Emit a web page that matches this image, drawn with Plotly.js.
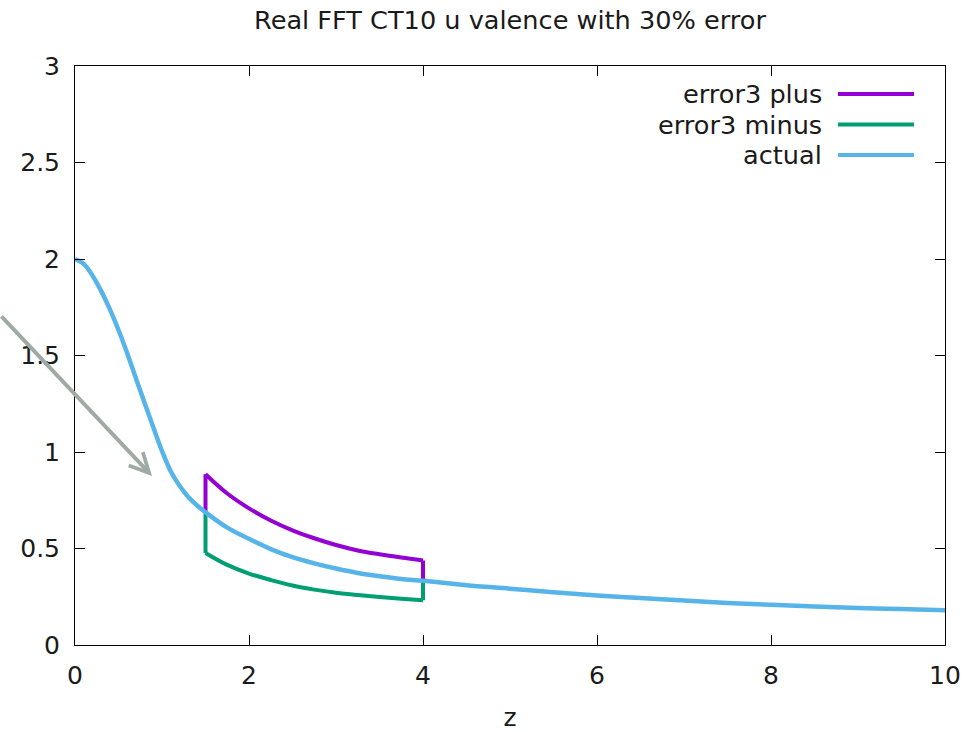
<!DOCTYPE html>
<html>
<head>
<meta charset="utf-8">
<script src="https://cdn.plot.ly/plotly-3.0.1.min.js"></script>
<style>html,body{margin:0;padding:0;background:#fff;}#chart{width:979px;height:732px;}</style>
</head>
<body>
<div id="chart"></div>
<script>
// ---- data ----
const chartTitle = "Real FFT CT10 u valence with 30% error";
const xTitle = "z";
const seriesNames = ["error3 plus", "error3 minus", "actual"];
const seriesColors = ["#9400d3", "#009e73", "#56b4e9"];

const zActual = [0, 0.1, 0.2, 0.3, 0.4, 0.5, 0.6, 0.7, 0.8, 0.9, 1.0, 1.1, 1.2, 1.3, 1.4, 1.5,
  1.75, 2, 2.25, 2.5, 2.75, 3, 3.25, 3.5, 3.75, 4, 4.5, 5, 5.5, 6, 6.5, 7, 7.5, 8, 8.5, 9, 9.5, 10];
const actual = [2.0, 1.975, 1.915, 1.835, 1.74, 1.632, 1.512, 1.382, 1.254, 1.128, 1.005, 0.9, 0.826, 0.768, 0.724, 0.688,
  0.608, 0.55, 0.497, 0.455, 0.423, 0.396, 0.373, 0.356, 0.342, 0.333, 0.31, 0.292, 0.273, 0.256, 0.243, 0.23, 0.218, 0.208, 0.199, 0.192, 0.186, 0.18];

// error bands: vertical jump at z=1.5, curve, vertical jump back at z=4 (null separates pieces)
const zError = [1.5, 1.5, null, 1.5, 1.75, 2, 2.25, 2.5, 2.75, 3, 3.25, 3.5, 3.75, 4, null, 4, 4];
const errPlus = [0.688, 0.885, null, 0.885, 0.785, 0.708, 0.645, 0.594, 0.553, 0.518, 0.49, 0.47, 0.453, 0.438, null, 0.438, 0.333];
const errMinus = [0.688, 0.477, null, 0.477, 0.415, 0.37, 0.337, 0.308, 0.287, 0.271, 0.259, 0.249, 0.24, 0.232, null, 0.232, 0.333];

const xTicks = [0, 2, 4, 6, 8, 10];
const yTicks = [0, 0.5, 1, 1.5, 2, 2.5, 3];
const yTickText = ["0", "0.5", "1", "1.5", "2", "2.5", "3"];

// arrow annotation (head position in data units)
const arrowHead = {x: 0.885, y: 0.876};

const FONT = "DejaVu Sans, sans-serif";
const FS = 25;
const FS_BIG = 25.6;
const TXT = "#1a1a1a";

const traces = [
  {x: zError, y: errPlus, name: seriesNames[0], mode: "lines", connectgaps: false, line: {color: seriesColors[0], width: 4, shape: "spline", smoothing: 1}},
  {x: zError, y: errMinus, name: seriesNames[1], mode: "lines", connectgaps: false, line: {color: seriesColors[1], width: 4, shape: "spline", smoothing: 1}},
  {x: zActual, y: actual, name: seriesNames[2], mode: "lines", line: {color: seriesColors[2], width: 4.5, shape: "spline", smoothing: 1}}
];

// gnuplot-style legend: right-aligned text followed by a line sample
const legendAnn = [];
const legendShapes = [];
seriesNames.forEach((n, i) => {
  const yPix = 94 + i * 30.5;
  const yP = 1 - (yPix - 66) / (645 - 66);
  legendAnn.push({xref: "paper", yref: "paper", x: (824 - 75) / 870, y: yP, xanchor: "right", yanchor: "middle",
    text: n, showarrow: false, font: {family: FONT, size: FS_BIG, color: TXT}});
  legendShapes.push({type: "line", xref: "paper", yref: "paper", x0: (838 - 75) / 870, x1: (914 - 75) / 870,
    y0: yP, y1: yP, line: {color: seriesColors[i], width: 4}});
});

const layout = {
  width: 979, height: 732,
  margin: {l: 75, r: 34, t: 66, b: 87, pad: 0},
  paper_bgcolor: "#fff", plot_bgcolor: "#fff",
  showlegend: false,
  title: {text: chartTitle, font: {family: FONT, size: FS_BIG, color: TXT}, x: 510 / 979, xanchor: "center", xref: "container", y: 1 - 20 / 732, yanchor: "middle", yref: "container"},
  xaxis: {
    range: [0, 10], tickvals: xTicks, ticks: "inside", ticklen: 10, tickwidth: 1, tickcolor: "#000",
    showline: true, linecolor: "#000", linewidth: 1, mirror: "ticks", showgrid: false, zeroline: false,
    tickfont: {family: FONT, size: FS, color: TXT}, ticklabelstandoff: 8,
    title: {text: xTitle, font: {family: FONT, size: FS, color: TXT}, standoff: 21}
  },
  yaxis: {
    range: [0, 3], tickvals: yTicks, ticktext: yTickText, ticks: "inside", ticklen: 10, tickwidth: 1, tickcolor: "#000",
    showline: true, linecolor: "#000", linewidth: 1, mirror: "ticks", showgrid: false, zeroline: false,
    tickfont: {family: FONT, size: FS, color: TXT}, ticklabelstandoff: 9
  },
  annotations: legendAnn.concat([{
    x: arrowHead.x, y: arrowHead.y, xref: "x", yref: "y", text: "", showarrow: true,
    ax: -153, ay: -161, axref: "pixel", ayref: "pixel",
    arrowhead: 5, arrowsize: 0.95, arrowwidth: 4, arrowcolor: "#a0aaa4"
  }]),
  shapes: legendShapes
};

Plotly.newPlot("chart", traces, layout, {displayModeBar: false, staticPlot: true});
</script>
</body>
</html>
